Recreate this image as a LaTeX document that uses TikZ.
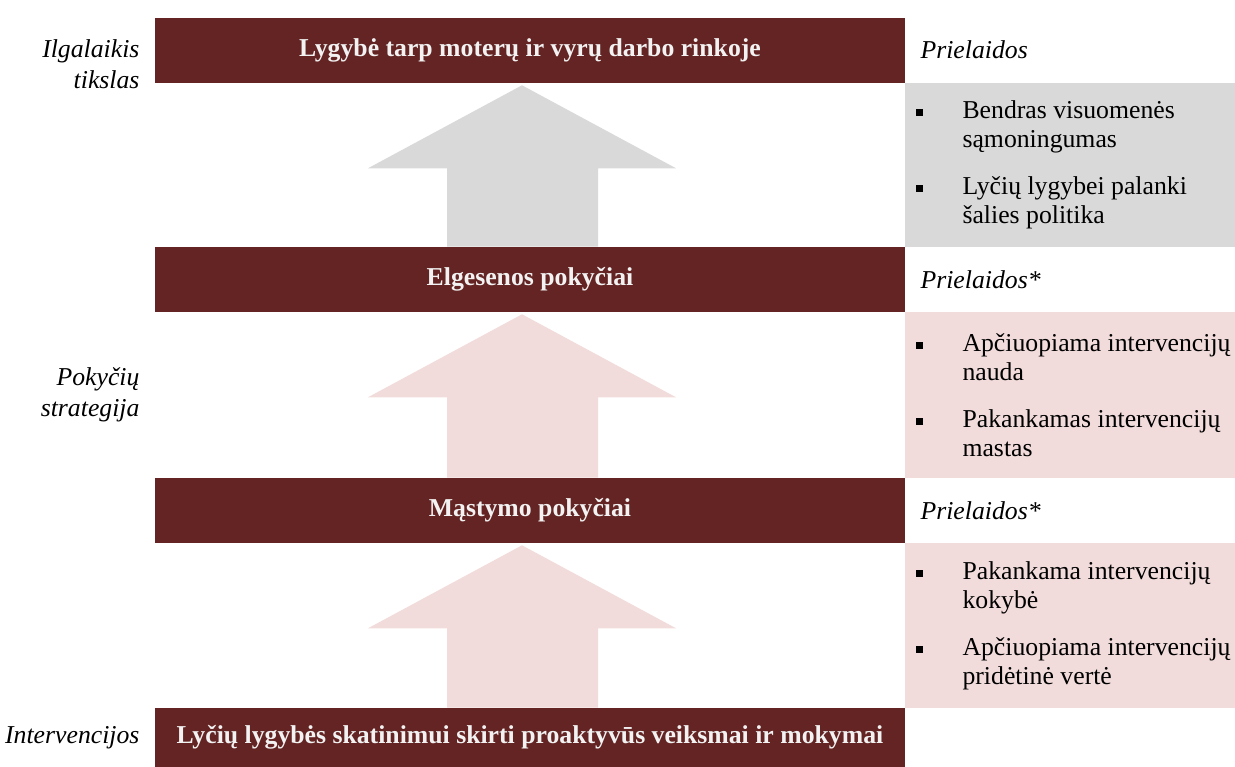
\documentclass[tikz,border=0pt]{standalone}
\usepackage{fontspec}
\setmainfont{Liberation Serif}
\usetikzlibrary{positioning, calc}
\definecolor{boxred}{HTML}{632423}
\definecolor{boxtext}{HTML}{F2F2F2}
\definecolor{panelgray}{HTML}{D9D9D9}
\definecolor{panelpink}{HTML}{F2DCDB}
\tikzset{
        stage/.style={
            rectangle, fill=boxred, text=boxtext, inner sep=0pt,
            minimum width=562.5pt, minimum height=48.75pt,
            font=\fontsize{19.3pt}{22pt}\selectfont\bfseries
        },
        side/.style={align=right, inner sep=0pt, font=\fontsize{19.3pt}{23.5pt}\selectfont\itshape},
        note/.style={inner sep=0pt, anchor=west, font=\fontsize{19.3pt}{22pt}\selectfont\itshape},
        hyp/.style={align=left, inner sep=0pt, anchor=west, font=\fontsize{19.3pt}{22pt}\selectfont},
}
\newcommand{\hypbullet}{\llap{\rule[1.6pt]{5.2pt}{5.2pt}\hspace{29.8pt}}}

\begin{document}
\begin{tikzpicture}[x=0.75pt, y=-0.75pt]

        \useasboundingbox (0,0) rectangle (1235,767);
        \coordinate (rim) at (1235,0);

        % DRAW STAGES (top to bottom)
        \node[stage]                         (goal)   at (530,50.5)  {Lygybė tarp moterų ir vyrų darbo rinkoje};
        \node[stage]                         (behav)  at (530,279.5) {Elgesenos pokyčiai};
        \node[stage]                         (mind)   at (530,510.5) {Mąstymo pokyčiai};
        \node[stage, minimum height=44.25pt] (interv) at (530,737.5) {Lyčių lygybės skatinimui skirti proaktyvūs veiksmai ir mokymai};

        % ASSUMPTION PANELS
        \fill[panelgray] (goal.south east)  rectangle (rim |- behav.north);
        \fill[panelpink] (behav.south east) rectangle (rim |- mind.north);
        \fill[panelpink] (mind.south east)  rectangle (rim |- interv.north);

        % BLOCK ARROWS BETWEEN STAGES
        \foreach \lo/\hi/\tone in {behav/goal/panelgray, mind/behav/panelpink, interv/mind/panelpink}
            \fill[\tone] ($(\hi.south)+(-8,2)$) -- ($(\hi.south)+(146,85)$) -- ($(\hi.south)+(68,85)$)
                -- ($(\lo.north)+(68,0)$) -- ($(\lo.north)+(-83,0)$)
                -- ($(\hi.south)+(-83,85)$) -- ($(\hi.south)+(-162,85)$) -- cycle;

        % LEFT LABELS
        \node[side, anchor=east] (lgoal)   at ($(goal.west)+(-15,14)$)                  {Ilgalaikis\\tikslas};
        \node[side, anchor=east] (lstrat)  at ($(behav.west)!0.5!(mind.west)+(-15,0)$) {Pokyčių\\strategija};
        \node[side, anchor=east] (linterv) at ($(interv.west)+(-15,0)$)                 {Intervencijos};

        % PREMISES
        \node[note] (premgoal)  at ($(goal.east)+(15,-1)$)  {Prielaidos};
        \node[note] (prembehav) at ($(behav.east)+(15,0)$) {Prielaidos*};
        \node[note] (premmind)  at ($(mind.east)+(15,0)$)  {Prielaidos*};

        \node[hyp] (hypgoal)  at ($(goal.south east)!0.5!(behav.north east)+(57,0)$)
            {\hypbullet Bendras visuomenės\\sąmoningumas\\[13pt]\hypbullet Lyčių lygybei palanki\\šalies politika};
        \node[hyp] (hypbehav) at ($(behav.south east)!0.5!(mind.north east)+(57,0)$)
            {\hypbullet Apčiuopiama intervencijų\\nauda\\[13pt]\hypbullet Pakankamas intervencijų\\mastas};
        \node[hyp] (hypmind)  at ($(mind.south east)!0.5!(interv.north east)+(57,0)$)
            {\hypbullet Pakankama intervencijų\\kokybė\\[13pt]\hypbullet Apčiuopiama intervencijų\\pridėtinė vertė};

\end{tikzpicture}
\end{document}
